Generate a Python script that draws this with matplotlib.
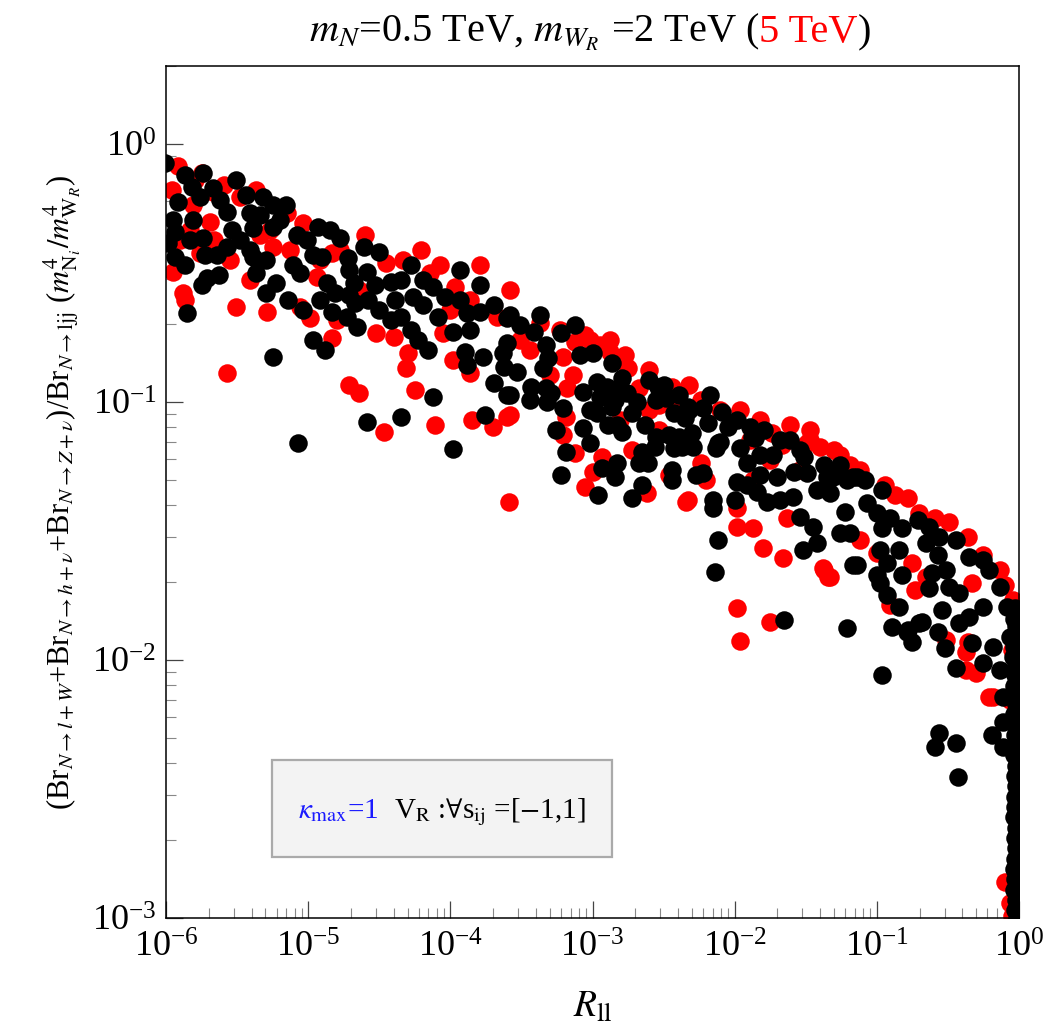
import numpy as np
import matplotlib
matplotlib.use("Agg")
import matplotlib.pyplot as plt
from matplotlib.ticker import LogLocator, NullFormatter
from matplotlib.patches import Rectangle
from matplotlib.transforms import IdentityTransform

plt.rcParams['font.family'] = ['Liberation Serif', 'DejaVu Serif']
plt.rcParams['mathtext.fontset'] = 'stix'

# values, stored as log10(R_ll) and log10(ratio)
red_log_r = [
    -5.92, -5.75, -5.96, -5.67, -5.81, -5.48, -5.15, -5.04, -5.69, -5.76,
    -5.95, -5.88, -5.87, -5.51, -5.29, -5.41, -5.25, -5.06, -4.99, -4.83,
    -5.57, -4.71, -4.64, -4.47, -4.25, -4.31, -4.30, -4.11, -3.85, -3.70,
    -3.60, -4.52, -4.40, -4.14, -3.97, -3.86, -3.98, -3.86, -4.33, -4.94,
    -4.80, -4.83, -4.45, -3.67, -4.05, -3.37, -3.12, -3.21, -3.14, -3.18,
    -3.58, -3.19, -3.21, -3.12, -3.00, -3.05, -3.59, -2.93, -2.72, -2.62,
    -2.67, -2.44, -2.41, -2.75, -2.53, -2.46, -2.34, -2.24, -2.20, -1.98,
    -1.87, -1.80, -1.66, -1.74, -1.67, -1.98, -1.63, -1.87, -2.33, -1.37,
    -1.33, -1.40, -1.49, -1.98, -1.96, -1.75, -1.11, -0.78, -0.70, -0.59,
    -0.49, -0.36, -0.25, -0.135, -0.044, -0.01, -0.75, -0.73, -0.91, -0.36,
    -0.37, -0.30, -0.21, -0.51, -1.00, -1.12, -0.65, -0.33, -0.10, -0.06,
    -0.05, -0.18, -0.37, -1.38, -1.34, -2.95, -3.02, -2.88, -2.24, -2.10,
    -1.47, -1.26, -1.12, -0.94, -0.87, -0.10, -0.02, -0.05, -0.065, -5.34,
    -4.92, -4.64, -4.00, -3.51, -2.53, -1.89, -5.55, -5.83,
    -5.80, -5.59, -5.37, -5.27, -5.13, -5.66, -5.90, -4.78, -4.60, -4.21,
    -4.07, -3.79, -3.58, -3.23, -3.05, -2.88, -2.77, -2.60, -2.32, -3.44,
    -3.30, -2.81, -2.60, -1.96, -1.82, -1.61, -1.47, -1.30, -1.19, -1.75,
    -1.54,
]
red_log_br = [
    -0.085, -0.112, -0.178, -0.186, -0.236, -0.205, -0.267, -0.306, -0.302, -0.422,
    -0.496, -0.578, -0.605, -0.632, -0.651, -0.527, -0.399, -0.632, -0.674, -0.752,
    -0.888, -0.934, -0.965, -1.116, -0.953, -0.868, -0.810, -1.089, -1.070, -1.097,
    -1.058, -0.733, -0.748, -0.500, -0.554, -0.605, -0.837, -0.888, -0.450, -0.516,
    -0.682, -0.422, -0.461, -0.671, -0.733, -0.694, -0.767, -0.826, -0.895, -0.946,
    -1.050, -1.058, -1.128, -1.198, -1.271, -1.329, -1.388, -1.213, -1.186, -1.353,
    -0.946, -0.942, -0.984, -0.868, -1.109, -1.283, -1.388, -1.236, -1.302, -1.484,
    -1.488, -1.566, -1.605, -1.120, -1.167, -1.411, -1.450, -1.302, -1.380, -1.651,
    -1.678, -1.174, -1.159, -1.798, -1.926, -1.853, -1.291, -1.372, -1.430, -1.450,
    -1.465, -1.523, -1.593, -1.651, -1.767, -1.857, -1.624, -1.729, -1.787, -1.930,
    -2.039, -2.050, -2.143, -1.922, -1.585, -1.535, -1.678, -1.702, -2.860, -2.942,
    -2.992, -2.143, -1.969, -1.643, -1.678, -0.779, -0.760, -0.806, -0.992, -1.031,
    -1.147, -1.205, -1.264, -1.322, -1.360, -1.709, -1.806, -1.961, -2.155, -0.353,
    -0.450, -0.566, -0.643, -0.760, -1.012, -1.147, -0.450, -0.333,
    -0.140, -0.159, -0.178, -0.333, -0.411, -0.372, -0.372, -0.411, -0.353, -0.411,
    -0.469, -0.469, -0.566, -0.721, -0.740, -0.760, -0.818, -0.876, -0.934, -0.798,
    -0.895, -1.070, -1.031, -1.031, -1.070, -1.089, -1.109, -1.186, -1.244, -1.225,
    -1.264,
]

black_log_r = [
    -6.01, -5.74, -5.82, -5.67, -5.76, -5.92, -5.57, -5.44, -5.32, -5.25,
    -5.20, -5.41, -5.95, -5.81, -5.94, -5.54, -5.39, -5.25, -5.74, -5.83,
    -5.99, -5.57, -5.64, -5.41, -5.39, -5.94, -5.08, -4.93, -4.85, -4.78,
    -5.01, -5.37, -5.63, -5.71, -5.75, -5.85, -5.30, -5.23, -5.11, -5.06,
    -5.14, -5.04, -4.92, -4.83, -4.87, -4.81, -4.97, -4.90, -4.97, -4.88,
    -5.25, -4.72, -4.61, -4.50, -4.59, -4.68, -4.71, -4.67, -4.58, -4.73,
    -4.66, -4.50, -4.42, -4.35, -4.42, -4.35, -4.28, -4.26, -4.19, -4.19,
    -4.12, -4.04, -4.23, -4.16, -4.09, -3.98, -3.88, -3.79, -3.86, -3.90,
    -3.88, -3.77, -3.69, -3.60, -3.60, -4.12, -4.59, -4.35, -3.76, -5.07,
    -3.98, -3.63, -3.58, -3.51, -3.41, -3.22, -3.33, -3.31, -3.35, -3.60,
    -3.62, -3.53, -3.43, -3.33, -3.29, -3.32, -3.21, -3.58, -3.00, -2.86,
    -2.79, -2.97, -2.90, -3.07, -2.95, -2.84, -2.76, -2.69, -2.97, -2.86,
    -2.89, -2.79, -2.83, -3.07, -3.02, -3.26, -3.19, -3.22, -2.93, -2.83,
    -2.84, -2.96, -2.72, -2.65, -2.63, -2.65, -2.67, -2.61, -2.56, -2.50,
    -2.48, -2.55, -2.43, -2.55, -2.46, -2.43, -2.32, -2.35, -2.22, -2.19,
    -2.09, -2.39, -2.30, -2.29, -2.37, -2.44, -2.44, -2.27, -2.22, -2.13,
    -2.10, -2.05, -1.98, -1.89, -1.88, -1.96, -1.91, -1.98, -2.00, -1.91,
    -1.82, -1.84, -1.77, -1.73, -2.15, -2.15, -2.12, -2.14, -1.70, -1.61,
    -1.58, -1.59, -1.54, -1.17, -1.52, -1.42, -1.45, -1.26, -1.19, -1.22,
    -1.31, -1.17, -1.33, -1.54, -1.49, -1.35, -1.21, -1.42, -2.81, -2.54,
    -2.72, -2.33, -1.86, -2.12, -1.14, -0.96, -1.07, -1.00, -0.91, -0.96,
    -0.82, -0.71, -0.63, -0.56, -0.44, -0.65, -0.57, -0.84, -0.98, -1.14,
    -0.93, -1.00, -0.82, -0.98, -0.93, -0.84, -0.61, -0.63, -0.51, -0.49,
    -0.54, -0.42, -0.35, -0.25, -0.21, -0.135, -0.086, -0.42, -0.35, -0.25,
    -0.89, -0.78, -0.70, -0.75, -0.57, -0.52, -0.44, -0.96, -0.33, -0.25,
    -0.18, -0.135, -0.11, -0.065, -0.044, -0.015, -1.65, -1.21, -0.79, -0.68,
    -0.19, -0.11, -0.11, -0.56, -0.59, -0.44, -0.43,
    -5.87, -5.62, -5.51, -5.34, -5.16, -5.73, -5.48, -5.87, -5.30, -4.71,
    -4.53, -4.39, -4.28, -3.93, -3.79, -3.69, -3.93, -3.37, -3.12, -3.09,
    -2.60, -2.39, -2.17, -3.02, -3.44, -1.79, -1.68, -1.51, -1.37, -1.26,
    -1.08, -1.82, -1.68,
    # dense column next to R_ll = 1
    -0.03, -0.035, -0.02, -0.03, -0.035, -0.03, -0.02, -0.03, -0.035, -0.03,
    -0.02, -0.035, -0.02, -0.03, -0.03, -0.035, -0.02, -0.03, -0.02, -0.03,
    -0.03, -0.035, -0.02, -0.03, -0.02, -0.03, -0.035, -0.03, -0.035, -0.02,
    -0.03, -0.02,
]
black_log_br = [
    -0.074, -0.112, -0.167, -0.171, -0.205, -0.225, -0.264, -0.198, -0.205, -0.236,
    -0.295, -0.267, -0.295, -0.295, -0.341, -0.333, -0.326, -0.322, -0.364, -0.372,
    -0.384, -0.399, -0.430, -0.411, -0.438, -0.438, -0.353, -0.322, -0.333, -0.364,
    -0.372, -0.500, -0.508, -0.519, -0.547, -0.655, -0.578, -0.539, -0.469, -0.500,
    -0.605, -0.643, -0.605, -0.651, -0.539, -0.578, -0.430, -0.438, -0.760, -0.798,
    -0.826, -0.442, -0.399, -0.419, -0.496, -0.539, -0.585, -0.616, -0.605, -0.671,
    -0.709, -0.643, -0.535, -0.527, -0.682, -0.671, -0.721, -0.593, -0.624, -0.527,
    -0.554, -0.593, -0.760, -0.798, -0.671, -0.729, -0.655, -0.651, -0.721, -0.806,
    -0.857, -0.826, -0.926, -0.973, -0.674, -0.981, -1.078, -1.058, -1.050, -1.159,
    -1.182, -0.810, -0.663, -0.702, -0.729, -0.733, -0.779, -0.829, -0.868, -0.771,
    -0.864, -0.884, -0.942, -0.946, -0.965, -1.000, -1.023, -0.973, -0.810, -0.849,
    -0.907, -0.922, -0.942, -0.961, -0.981, -0.992, -0.965, -1.000, -1.043, -1.019,
    -1.089, -1.116, -1.089, -1.101, -1.159, -1.109, -1.194, -1.283, -1.256, -1.236,
    -1.291, -1.360, -1.372, -1.322, -1.089, -1.194, -1.236, -1.236, -1.174, -0.934,
    -0.984, -0.992, -1.043, -1.136, -1.128, -1.178, -1.031, -1.062, -1.023, -1.081,
    -1.039, -1.136, -1.120, -1.174, -1.174, -1.264, -1.302, -1.283, -1.275, -1.178,
    -1.155, -1.097, -1.070, -1.097, -1.136, -1.178, -1.236, -1.310, -1.380, -1.322,
    -1.283, -1.349, -1.388, -1.205, -1.380, -1.411, -1.535, -1.659, -1.291, -1.147,
    -1.271, -1.368, -1.446, -1.632, -1.574, -1.547, -1.484, -1.508, -1.508, -1.426,
    -1.291, -1.291, -1.353, -1.186, -1.275, -1.291, -1.302, -1.341, -0.953, -0.942,
    -1.043, -1.019, -1.140, -1.159, -1.291, -1.341, -1.391, -1.430, -1.450, -1.488,
    -1.488, -1.457, -1.484, -1.523, -1.535, -1.547, -1.593, -1.574, -1.574, -1.632,
    -1.624, -1.670, -1.670, -1.702, -1.748, -1.795, -1.663, -1.721, -1.651, -1.717,
    -1.806, -1.740, -1.601, -1.612, -1.651, -1.717, -1.795, -1.857, -1.833, -1.795,
    -1.872, -1.884, -1.857, -1.930, -1.891, -1.953, -2.031, -2.058, -1.934, -2.012,
    -1.950, -2.039, -2.143, -1.911, -1.988, -2.089, -1.845, -1.876, -1.891, -1.853,
    -2.291, -2.240, -2.337, -2.283, -2.337, -2.322, -2.453,
    -0.120, -0.217, -0.140, -0.275, -0.236, -0.430, -0.372, -0.469, -0.450, -0.488,
    -0.547, -0.605, -0.469, -0.488, -0.547, -0.624, -0.605, -0.663, -0.702, -0.818,
    -0.915, -0.973, -0.973, -1.031, -0.992, -1.109, -1.147, -1.213, -1.244, -1.244,
    -1.302, -1.205, -1.380,
    -1.80, -1.84, -1.87, -1.91, -1.95, -1.98, -2.02, -2.06, -2.10, -2.13,
    -2.17, -2.21, -2.25, -2.29, -2.33, -2.37, -2.41, -2.45, -2.49, -2.53,
    -2.57, -2.61, -2.65, -2.69, -2.73, -2.77, -2.81, -2.85, -2.89, -2.93,
    -2.97, -3.01,
]

title_parts = [(r"$m_N$=0.5 TeV, $m_{W_R}$ =2 TeV (", "black"), ("5 TeV", "red"), (")", "black")]
legend_parts = [(r"$\kappa_{\mathrm{max}}$=1", "#1a1aff"),
                (r"V$_{\mathrm{R}}$ :$\forall$s$_{\mathrm{ij}}$ =[$-$1,1]", "black")]

fig = plt.figure(figsize=(10.45, 10.35), dpi=100)
ax = fig.add_axes([0.159, 0.113, 0.816, 0.823])

ax.scatter(10 ** np.array(red_log_r), 10 ** np.array(red_log_br), s=178, c='red', linewidths=0, zorder=2)
ax.scatter(10 ** np.array(black_log_r), 10 ** np.array(black_log_br), s=178, c='black', linewidths=0, zorder=3)

ax.set_xscale('log')
ax.set_yscale('log')
ax.set_xlim(1e-6, 1)
ax.set_ylim(1e-3, 2.0)

for axis in (ax.xaxis, ax.yaxis):
    axis.set_major_locator(LogLocator(base=10, numticks=20))
    axis.set_minor_locator(LogLocator(base=10, subs=np.arange(2, 10), numticks=20))
    axis.set_minor_formatter(NullFormatter())
ax.tick_params(which='both', direction='in', top=False, right=False)
ax.tick_params(which='major', length=12, width=0.9, color='#444444', labelsize=26, pad=7)
ax.tick_params(axis='x', which='major', pad=10)
ax.tick_params(which='minor', length=7, width=0.8, color='#888888')
for sp in ax.spines.values():
    sp.set_linewidth(1.1)

ax.set_ylabel(r"(Br$_{N\rightarrow l+W}$+Br$_{N\rightarrow h+\nu}$+Br$_{N\rightarrow Z+\nu}$)/Br$_{N\rightarrow \mathrm{ljj}}$ ($m^4_{\mathrm{N}_i}/m^4_{\mathrm{W}_R}$)",
              fontsize=22)
ax.yaxis.set_label_coords(-0.097, 0.5)
ax.set_xlabel(r"$R_{\mathrm{ll}}$", fontsize=27)
ax.xaxis.set_label_coords(0.5, -0.085)

# legend-like box
ax.add_patch(Rectangle((0.124, 0.072), 0.399, 0.114, transform=ax.transAxes,
                       facecolor='#f3f3f3', edgecolor='#aaaaaa', linewidth=1.6, zorder=5))

fig.canvas.draw()
renderer = fig.canvas.get_renderer()


def colored_line(parts, xc, yb, size, gap=0):
    texts = [fig.text(0, 0, s, color=c, fontsize=size, transform=IdentityTransform(),
                      ha='left', va='baseline', zorder=6) for s, c in parts]
    widths = [t.get_window_extent(renderer).width for t in texts]
    x = xc - (sum(widths) + gap * (len(parts) - 1)) / 2
    for t, w in zip(texts, widths):
        t.set_position((x, yb))
        x += w + gap


H = fig.get_figheight() * fig.dpi
colored_line(title_parts, 590, H - 42, 29)
colored_line(legend_parts, 442, H - 818, 21, gap=16)

fig.savefig('out.png', dpi=100)
